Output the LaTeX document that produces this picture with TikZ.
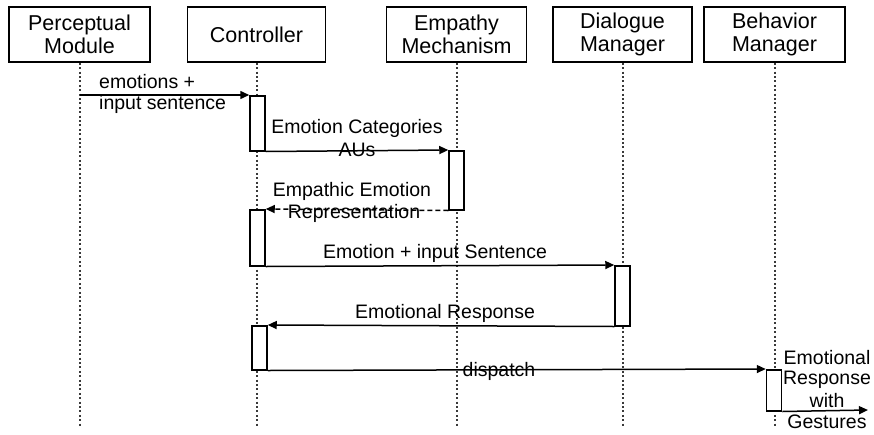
\documentclass[tikz,border=0pt]{standalone}
\usepackage{fontspec}
\setmainfont{Liberation Sans}
\usetikzlibrary{arrows.meta}

\begin{document}
\begin{tikzpicture}[x=1pt,y=-1pt,
  actor/.style={draw, line width=1.6pt, minimum height=55pt, inner sep=0pt,
    align=center, font=\fontsize{21.5}{23}\selectfont},
  lifeline/.style={draw=gray!45!black, line width=2pt, dash pattern=on 2pt off 2.4pt},
  actbox/.style={draw, line width=1.5pt, fill=white, minimum width=15pt,
    inner sep=0pt, anchor=north},
  msg/.style={line width=1.5pt, -{Triangle[length=9pt,width=8pt]}},
  reply/.style={msg, dash pattern=on 5pt off 3pt},
  lbl/.style={font=\fontsize{19.5}{22}\selectfont, align=center, inner sep=0pt}
]
\useasboundingbox (0,0) rectangle (874,434);

% participants
\node[actor, minimum width=141pt] (pm) at (79.5,34.5) {Perceptual\\Module};
\node[actor, minimum width=138pt] (ct) at (256.5,34.5) {Controller};
\node[actor, minimum width=140pt] (em) at (456.5,34.5) {Empathy\\Mechanism};
\node[actor, minimum width=139pt] (dm) at (622.5,34.5) {Dialogue\\Manager};
\node[actor, minimum width=141pt] (bm) at (774.5,34.5) {Behavior\\Manager};

% lifelines
\foreach \p in {pm,ct,em,dm,bm}
  \draw[lifeline] (\p.south) -- (\p.south |- 0,426);

% activation bars
\node[actbox, minimum height=55pt] (a1) at (257.5,95) {};
\node[actbox, minimum height=59pt] (e1) at (456.5,150) {};
\node[actbox, minimum height=56pt] (a2) at (257.5,209) {};
\node[actbox, minimum height=60pt] (d1) at (622.5,265) {};
\node[actbox, minimum height=44pt] (a3) at (259.5,325) {};
\node[actbox, minimum height=41pt] (b1) at (774,369) {};
\coordinate (out) at (868,410);

% messages
\draw[msg] (pm.south |- a1.north) -- (a1.north west);
\draw[msg] (a1.south east) -- (e1.north west);
\draw[reply] (e1.south west) -- (a2.north east);
\draw[msg] (a2.south east) -- (d1.north west);
\draw[msg] (d1.south west) -- (a3.north east);
\draw[msg] (a3.south east) -- (b1.north west);
\draw[msg] (b1.south east) -- (out);

% message labels
\node[lbl, anchor=west] (l1a) at (99,82) {emotions +};
\node[lbl, anchor=west] (l1b) at (99,104) {input sentence};
\node[lbl] (l2a) at (357,128) {Emotion Categories};
\node[lbl] (l2b) at (357,150) {AUs};
\node[lbl] (l3a) at (352,191) {Empathic Emotion};
\node[lbl] (l3b) at (354,213) {Representation};
\node[lbl] (l4) at (435,253) {Emotion + input Sentence};
\node[lbl] (l5) at (445,313) {Emotional Response};
\node[lbl] (l6) at (499,371) {dispatch};
\node[lbl] (l7a) at (827,358) {Emotional};
\node[lbl] (l7b) at (827,380) {Response};
\node[lbl] (l7c) at (827,401) {with};
\node[lbl] (l7d) at (827,422) {Gestures};
\end{tikzpicture}
\end{document}
